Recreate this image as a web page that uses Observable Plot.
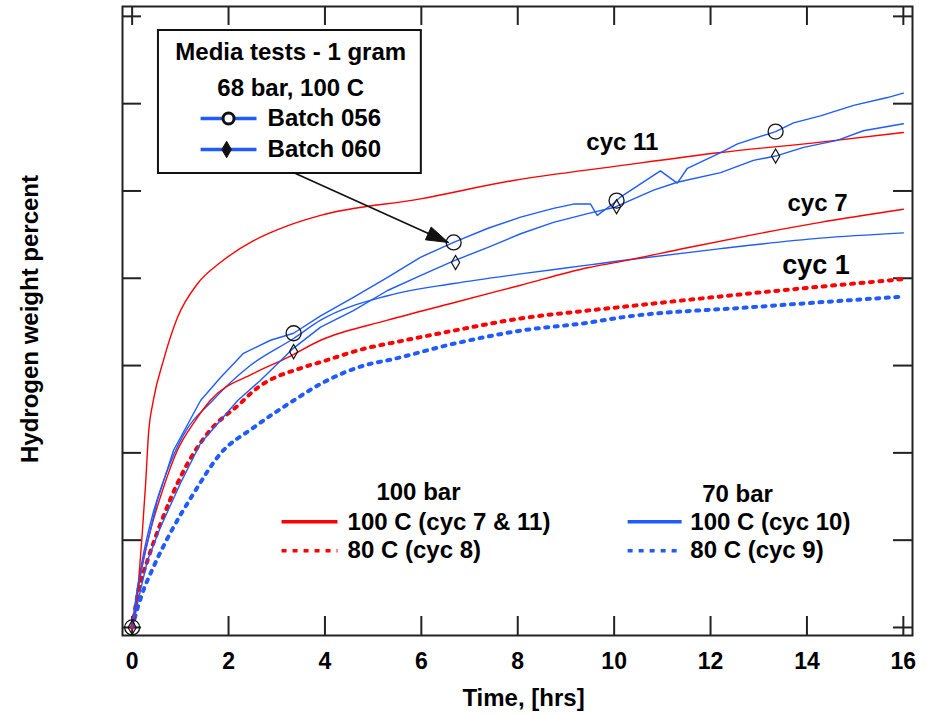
<!DOCTYPE html>
<html><head><meta charset="utf-8">
<script src="https://cdn.jsdelivr.net/npm/d3@7"></script>
<script src="https://cdn.jsdelivr.net/npm/@observablehq/plot@0.6"></script>
<style>html,body{margin:0;padding:0;background:#fff}</style>
</head><body><div id="chart"></div>
<script>
// ---------- data (time in hrs, hydrogen uptake in y-tick units) ----------
const xTicks = [0, 2, 4, 6, 8, 10, 12, 14, 16];
const yTicks = [0, 1, 2, 3, 4, 5, 6, 7];

// 100 bar, 100 C, cycle 11 (red solid)
const cyc11 = [[0,0],[0.07,0.16],[0.13,0.50],[0.21,1.08],[0.28,1.65],[0.34,2.22],[0.44,2.60],[0.65,3.06],[0.94,3.55],[1.36,3.94],[1.83,4.18],[2.52,4.43],[3.22,4.60],[3.91,4.72],[5.98,4.91],[7.91,5.12],[10.13,5.29],[12.21,5.44],[14.28,5.56],[16.0,5.67]];
// 100 bar, 100 C, cycle 7 (red solid)
const cyc7 = [[0,0],[0.09,0.31],[0.21,0.71],[0.38,1.11],[0.63,1.57],[0.94,2.03],[1.31,2.37],[1.62,2.60],[2.52,2.91],[3.22,3.09],[3.91,3.29],[5.30,3.52],[6.67,3.72],[8.06,3.92],[9.45,4.12],[10.13,4.19],[11.52,4.35],[12.89,4.50],[14.28,4.64],[16.0,4.79]];
// 100 bar, 80 C, cycle 8 (red dotted)
const cyc8 = [[0,0],[0.13,0.42],[0.32,0.77],[0.59,1.19],[1.00,1.72],[1.56,2.22],[2.25,2.57],[2.52,2.71],[3.55,2.98],[3.91,3.04],[4.94,3.21],[5.30,3.25],[6.67,3.40],[8.06,3.54],[9.45,3.63],[10.13,3.67],[12.89,3.83],[16.0,3.99]];
// 70 bar, 100 C, cycle 10 (blue solid)
const cyc10 = [[0,0],[0.09,0.37],[0.21,0.77],[0.42,1.28],[0.69,1.74],[1.06,2.20],[1.67,2.60],[2.45,3.00],[3.35,3.31],[3.91,3.52],[5.30,3.80],[6.67,3.94],[8.06,4.05],[9.45,4.15],[10.13,4.20],[12.21,4.34],[14.28,4.46],[16.0,4.52]];
// 70 bar, 80 C, cycle 9 (blue dotted)
const cyc9 = [[0,0],[0.21,0.39],[0.44,0.69],[0.79,1.08],[1.27,1.53],[1.83,1.99],[2.52,2.29],[3.35,2.60],[3.91,2.79],[4.94,3.02],[5.30,3.06],[6.67,3.25],[8.06,3.40],[9.45,3.49],[10.13,3.55],[12.89,3.67],[16.0,3.79]];
// Media tests 1 gram, 68 bar 100 C: Batch 056
const batch056 = [[0,0],[0.11,0.46],[0.28,0.88],[0.52,1.45],[0.86,2.03],[1.42,2.60],[1.83,2.86],[2.31,3.14],[2.87,3.29],[3.35,3.37],[3.91,3.57],[4.59,3.78],[5.30,4.01],[5.98,4.24],[6.67,4.41],[7.37,4.57],[8.06,4.70],[8.74,4.80],[9.16,4.85],[9.51,4.85],[9.65,4.72],[9.99,4.86],[10.13,4.93],[10.96,5.23],[11.31,5.09],[11.52,5.26],[12.21,5.44],[12.56,5.54],[13.35,5.68],[13.72,5.78],[14.28,5.86],[14.97,5.98],[15.67,6.07],[16.0,6.12]];
// Batch 060
const batch060 = [[0,0],[0.17,0.42],[0.32,0.77],[0.59,1.15],[1.00,1.65],[1.42,2.11],[2.19,2.60],[2.66,2.83],[3.35,3.20],[3.91,3.44],[4.59,3.63],[5.30,3.86],[5.98,4.03],[6.67,4.20],[7.37,4.35],[8.06,4.51],[8.74,4.64],[9.45,4.74],[9.99,4.81],[10.82,5.01],[11.31,5.10],[12.21,5.21],[12.89,5.35],[13.35,5.40],[13.93,5.50],[14.63,5.58],[15.17,5.69],[16.0,5.77]];
const markers056 = [[0,0],[3.35,3.37],[6.67,4.41],[10.05,4.89],[13.35,5.68]];
const markers060 = [[0,0],[3.35,3.16],[6.71,4.18],[10.05,4.82],[13.35,5.40]];

const cycLabels = [
  {t: 10.17, v: 5.56, text: "cyc 11", size: 24},
  {t: 14.22, v: 4.86, text: "cyc 7", size: 24},
  {t: 14.19, v: 4.15, text: "cyc 1", size: 27}
];

// ---------- layout ----------
const W = 927, H = 715, mL = 122, mR = 15, mT = 6, mB = 80;
const xDomain = [-0.2, 16.19], yDomain = [-0.092, 7.113];
const plotW = W - mL - mR, plotH = H - mT - mB, tickLen = 19;
const sx = plotW / (xDomain[1] - xDomain[0]);
const sy = plotH / (yDomain[1] - yDomain[0]);
const RED = "#ff0000", BLUE = "#1f5bff";
const FONT = "'Liberation Sans', Arial, Helvetica, sans-serif";

// legend (in data units)
const boxLegend = {x1: 0.546, x2: 6.0, y1: 5.20, y2: 6.838};
const boxTitles = [
  {t: 3.29, v: 6.586, text: "Media tests - 1 gram"},
  {t: 3.29, v: 6.174, text: "68 bar, 100 C"}
];
const boxItems = [
  {x1: 1.42, x2: 2.58, v: 5.83, mt: 2.0, tx: 2.81, text: "Batch 056", kind: "circle"},
  {x1: 1.42, x2: 2.58, v: 5.475, mt: 1.96, tx: 2.81, text: "Batch 060", kind: "diamond"}
];
const arrowFrom = [3.39, 5.20], arrowTo = [6.56, 4.41];

const groupTitles = [
  {t: 5.94, v: 1.55, text: "100 bar"},
  {t: 12.56, v: 1.52, text: "70 bar"}
];
const groupItems = [
  {x1: 3.10, x2: 4.26, v: 1.21, tx: 4.47, text: "100 C (cyc 7 & 11)", color: RED, dotted: false},
  {x1: 3.10, x2: 4.26, v: 0.88, tx: 4.47, text: "80 C (cyc 8)", color: RED, dotted: true},
  {x1: 10.28, x2: 11.40, v: 1.21, tx: 11.58, text: "100 C (cyc 10)", color: BLUE, dotted: false},
  {x1: 10.28, x2: 11.40, v: 0.88, tx: 11.58, text: "80 C (cyc 9)", color: BLUE, dotted: true}
];

function arrowHead(from, to, len, half) {
  const dxp = (to[0] - from[0]) * sx, dyp = -(to[1] - from[1]) * sy;
  const L = Math.hypot(dxp, dyp), ux = dxp / L, uy = dyp / L;
  const nx = -uy, ny = ux;
  const pts = [[0, 0], [-ux * len + nx * half, -uy * len + ny * half], [-ux * len - nx * half, -uy * len - ny * half], [0, 0]];
  return pts.map(([px, py]) => [to[0] + px / sx, to[1] - py / sy]);
}

const X = d => d[0], Y = d => d[1];
const smooth = (data, color) => Plot.line(data, {x: X, y: Y, stroke: color, strokeWidth: 1.4, curve: "monotone-x"});
const jagged = (data, color) => Plot.line(data, {x: X, y: Y, stroke: color, strokeWidth: 1.4});
const dotted = (data, color) => Plot.line(data, {x: X, y: Y, stroke: color, strokeWidth: 4, strokeDasharray: "3 6.5", curve: "monotone-x"});
const TXT = {fill: "black", fontWeight: "bold"};

const chart = Plot.plot({
  width: W, height: H,
  marginLeft: mL, marginRight: mR, marginTop: mT, marginBottom: mB,
  x: {domain: xDomain},
  y: {domain: yDomain, axis: null},
  style: {fontFamily: FONT, background: "white", color: "black"},
  marks: [
    // frame and inward ticks on all four sides
    Plot.frame({stroke: "#222", strokeWidth: 2}),
    Plot.ruleX(xTicks, {x: d => d, insetTop: plotH - tickLen, stroke: "#222", strokeWidth: 2}),
    Plot.ruleX(xTicks, {x: d => d, insetBottom: plotH - tickLen, stroke: "#222", strokeWidth: 2}),
    Plot.ruleY(yTicks, {y: d => d, insetRight: plotW - tickLen, stroke: "#222", strokeWidth: 2}),
    Plot.ruleY(yTicks, {y: d => d, insetLeft: plotW - tickLen, stroke: "#222", strokeWidth: 2}),
    Plot.axisX(xTicks, {tickSize: 0, tickPadding: 17, fontSize: 23, label: null, fill: "black", fontWeight: "bold"}),
    Plot.text(["Time, [hrs]"], {...TXT, text: d => d, frameAnchor: "bottom", textAnchor: "middle", lineAnchor: "middle", dx: 6, dy: 63, fontSize: 24}),
    Plot.text(["Hydrogen weight percent"], {...TXT, text: d => d, frameAnchor: "left", textAnchor: "middle", lineAnchor: "middle", dx: -92, dy: -2, rotate: -90, fontSize: 24}),

    // data
    dotted(cyc9, BLUE),
    dotted(cyc8, RED),
    smooth(cyc10, BLUE),
    smooth(cyc7, RED),
    smooth(cyc11, RED),
    jagged(batch060, BLUE),
    jagged(batch056, BLUE),
    Plot.dot(markers056, {x: X, y: Y, r: 7.5, stroke: "#111", strokeWidth: 1.3, fill: "none"}),
    Plot.dot(markers060, {x: X, y: Y, r: 4.3, symbol: "diamond", stroke: "#111", strokeWidth: 1.2, fill: "none"}),

    // curve labels
    Plot.text(cycLabels, {...TXT, x: "t", y: "v", text: "text", fontSize: d => d.size}),

    // top legend box
    Plot.rect([boxLegend], {x1: "x1", x2: "x2", y1: "y1", y2: "y2", fill: "white", stroke: "#111", strokeWidth: 2}),
    Plot.text(boxTitles, {...TXT, x: "t", y: "v", text: "text", fontSize: 24}),
    Plot.link(boxItems, {x1: "x1", x2: "x2", y1: "v", y2: "v", stroke: BLUE, strokeWidth: 3.5}),
    Plot.dot(boxItems.filter(d => d.kind === "circle"), {x: "mt", y: "v", r: 5.5, stroke: "#111", strokeWidth: 3, fill: "white"}),
    Plot.dot(boxItems.filter(d => d.kind === "diamond"), {x: "mt", y: "v", r: 5, symbol: "diamond", stroke: "#111", strokeWidth: 1, fill: "#111"}),
    Plot.text(boxItems, {...TXT, x: "tx", y: "v", text: "text", textAnchor: "start", fontSize: 24}),
    Plot.link([{a: arrowFrom, b: arrowTo}], {x1: d => d.a[0], y1: d => d.a[1], x2: d => d.b[0], y2: d => d.b[1], stroke: "#111", strokeWidth: 1.6}),
    Plot.line(arrowHead(arrowFrom, arrowTo, 22, 7), {x: X, y: Y, fill: "#111", stroke: "#111", strokeWidth: 1}),

    // bottom legend
    Plot.text(groupTitles, {...TXT, x: "t", y: "v", text: "text", fontSize: 24}),
    Plot.link(groupItems.filter(d => !d.dotted), {x1: "x1", x2: "x2", y1: "v", y2: "v", stroke: "color", strokeWidth: 3.5}),
    Plot.link(groupItems.filter(d => d.dotted), {x1: "x1", x2: "x2", y1: "v", y2: "v", stroke: "color", strokeWidth: 3.5, strokeDasharray: "5 6"}),
    Plot.text(groupItems, {...TXT, x: "tx", y: "v", text: "text", textAnchor: "start", fontSize: 24})
  ]
});
document.getElementById("chart").append(chart);
</script>
</body></html>
